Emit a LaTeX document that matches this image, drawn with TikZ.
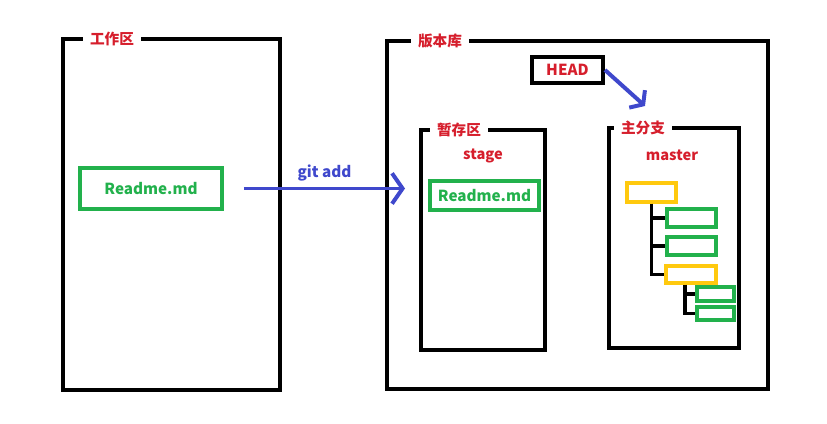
\documentclass[tikz,border=0pt]{standalone}
\usepackage{fontspec}
\setmainfont{Noto Sans CJK SC}
\usepackage{tikz}
\usetikzlibrary{arrows.meta,positioning,calc}
\definecolor{txtred}{RGB}{214,30,44}
\definecolor{filegreen}{RGB}{34,177,76}
\definecolor{gold}{RGB}{255,201,14}
\definecolor{arrblue}{RGB}{63,72,204}
\begin{document}
\begin{tikzpicture}[x=0.03cm, y=-0.03cm,
    area/.style={draw, line width=3.4pt, inner sep=0pt},
    title/.style={fill=white, inner xsep=6pt, inner ysep=2pt, text=txtred, font=\bfseries\fontsize{12.5}{14}\selectfont},
    file/.style={draw=filegreen, line width=3.4pt, inner sep=0pt, text=filegreen, font=\bfseries\fontsize{13}{15}\selectfont},
    commit/.style={draw=#1, line width=3.4pt, inner sep=0pt},
    branch/.style={line width=3.4pt},
    arr/.style={-{Straight Barb[length=9pt, width=26pt]}, line width=3.4pt, arrblue}
]
\useasboundingbox (0,0) rectangle (827,424);
% working directory
\node[area, minimum width=217*0.03cm, minimum height=351*0.03cm] (work) at (171.5,214.5) {};
\node[title] (worklbl) at (112,39) {工作区};
\node[file, minimum width=142*0.03cm, minimum height=41*0.03cm] (readme) at (151,188.5) {Readme.md};
% repository
\node[area, minimum width=381*0.03cm, minimum height=348*0.03cm] (repo) at (577.5,215) {};
\node[title] (repolbl) at (440,41) {版本库};
\node[area, minimum width=71*0.03cm, minimum height=26*0.03cm, text=txtred, font=\bfseries\fontsize{13}{15}\selectfont] (head) at (567.5,70) {HEAD};
\node[area, minimum width=124*0.03cm, minimum height=220*0.03cm] (stage) at (483,240) {};
\node[title] (stagelbl) at (459,130) {暂存区};
\node[title] (stagename) at (483,156) {stage};
\node[file, minimum width=109*0.03cm, minimum height=29*0.03cm] (staged) at (484.5,195.5) {Readme.md};
\node[area, minimum width=130*0.03cm, minimum height=220*0.03cm] (master) at (674,238) {};
\node[title] (masterlbl) at (643,128) {主分支};
\node[title] (mastername) at (672,155) {master};
% commits
\node[commit=gold, minimum width=49*0.03cm, minimum height=19*0.03cm] (c1) at (651.5,192.5) {};
\node[commit=filegreen, minimum width=49*0.03cm, minimum height=18*0.03cm] (c2) at (691.5,218) {};
\node[commit=filegreen, minimum width=49*0.03cm, minimum height=18*0.03cm] (c3) at (691.5,246) {};
\node[commit=gold, minimum width=50*0.03cm, minimum height=17*0.03cm] (c4) at (691,274.5) {};
\node[commit=filegreen, minimum width=37*0.03cm, minimum height=14*0.03cm] (c5) at (715.5,294) {};
\node[commit=filegreen, minimum width=37*0.03cm, minimum height=13*0.03cm] (c6) at (715.5,313.5) {};
\coordinate (headtip) at (645,106);

\draw[branch] (c1.south) |- (c2.west);
\draw[branch] (c1.south) |- (c3.west);
\draw[branch] (c1.south) |- (c4.west);
\draw[branch] ([xshift=-6*0.03cm]c4.south) |- (c5.west);
\draw[branch] ([xshift=-6*0.03cm]c4.south) |- (c6.west);
\draw[arr] (readme.east) ++(20,0) coordinate (addstart) -- ([xshift=-14*0.03cm]stage.west |- readme.east) node[midway, above=1pt, text=arrblue, font=\bfseries\fontsize{13}{15}\selectfont] (addlbl) {git add};
\draw[arr, -{Straight Barb[length=7pt, width=20pt]}] (head.east) -- (headtip);
\end{tikzpicture}
\end{document}
